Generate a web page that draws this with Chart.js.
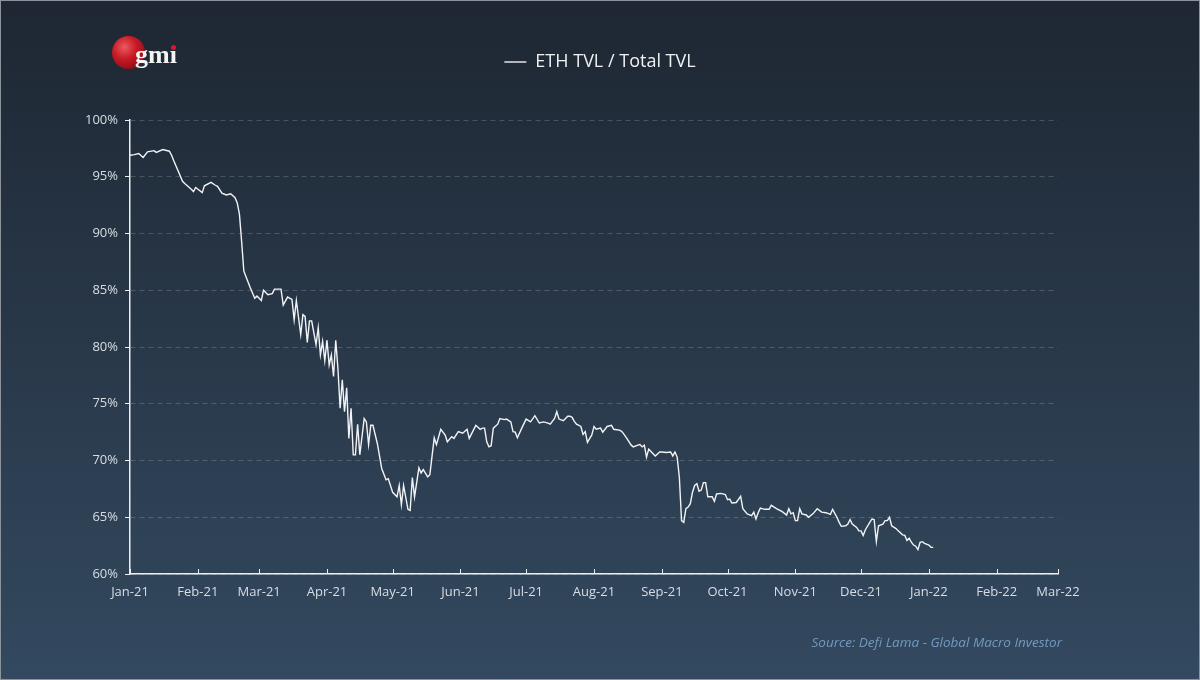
<!DOCTYPE html>
<html>
<head>
<meta charset="utf-8">
<title>ETH TVL / Total TVL</title>
<script src="https://cdn.jsdelivr.net/npm/chart.js@4.4.1/dist/chart.umd.min.js"></script>
<style>
  html, body { margin: 0; padding: 0; background: #1e2733; }
  #wrap {
    position: relative; width: 1200px; height: 680px; box-sizing: border-box;
    border: 1px solid #8c939b; overflow: hidden;
    background: linear-gradient(#1e2733, #33495f);
  }
  #chart { position: absolute; left: -1px; top: -1px; }
  .globe {
    position: absolute; left: 111px; top: 35px; width: 33px; height: 33px; border-radius: 50%;
    background: radial-gradient(circle at 38% 34%, #ea5a62 0%, #c81a25 40%, #8e0c14 80%, #6a070d 100%);
  }
  .gmi {
    position: absolute; left: 134px; top: 41px; font: bold 26px/26px "Liberation Serif", serif;
    color: #f4f4f4;
  }
  .idot { position: absolute; left: 170px; top: 44px; width: 5px; height: 5px; border-radius: 50%; background: #e3142a; }
  .source {
    position: absolute; right: 137px; top: 632px; font: italic 13.5px "Open Sans", sans-serif;
    color: #7399c0;
  }
</style>
</head>
<body>
<div id="wrap">
  <canvas id="chart" width="1200" height="680"></canvas>
  <div class="globe"></div>
  <div class="gmi">gmı</div>
  <div class="idot"></div>
  <div class="source">Source: Defi Lama - Global Macro Investor</div>
</div>
<script>
const seriesName = 'ETH TVL / Total TVL';

// days counted from 1 Jan 2021
const days = [
    0, 2, 4, 6, 8, 11, 12, 15, 18, 19, 20, 22, 24, 25, 28, 29, 30, 33, 34, 37, 39, 40, 42, 44, 46, 48, 49,
    50, 51, 52, 53, 55, 57, 58, 60, 61, 63, 65, 66, 69, 70, 72, 74, 75, 76, 78, 79, 80, 81, 82, 83, 85, 86, 87, 88, 89, 90, 91, 92, 93, 94, 95, 96, 97, 98, 99,
    100, 101, 102, 103, 104, 105, 107, 108, 109, 110, 111, 113, 115, 117, 118, 120, 122, 123, 124, 125, 127, 128, 129, 130, 132, 133, 134, 136, 137, 139, 140, 142, 144, 145, 147, 148,
    150, 152, 154, 155, 158, 160, 161, 162, 163, 164, 165, 166, 168, 169, 171, 172, 174, 175, 176, 177, 179, 181, 183, 185, 187, 189, 191, 192, 194, 195, 196, 198,
    200, 201, 202, 203, 204, 206, 207, 208, 209, 211, 212, 213, 215, 216, 218, 220, 221, 224, 225, 227, 229, 230, 232, 233, 234, 235, 236, 237, 239, 240, 242, 243, 245, 247, 248, 249,
    250, 251, 252, 253, 254, 255, 256, 257, 258, 259, 260, 261, 262, 263, 264, 266, 267, 268, 270, 272, 273, 274, 275, 277, 279, 280, 282, 284, 285, 286, 287, 288, 290, 292, 293, 295, 296, 298,
    300, 301, 302, 303, 304, 305, 306, 307, 309, 310, 312, 314, 316, 318, 320, 321, 323, 324, 325, 327, 328, 329, 330, 332, 333, 334, 335, 336, 338, 339, 340, 341, 342, 344, 345, 346, 347, 348,
    350, 351, 353, 354, 355, 356, 357, 358, 359, 360, 361, 362, 363, 365, 366, 367
]

const ethShare = [
    96.9, 96.95, 97.05, 96.7, 97.2, 97.3, 97.15, 97.4, 97.25, 96.9, 96.4, 95.5, 94.6, 94.4, 93.9, 93.7, 94.05, 93.6, 94.2, 94.5, 94.25, 94.15, 93.55, 93.4, 93.5, 93.15, 92.7,
    91.7, 89.3, 86.7, 86.2, 85.2, 84.3, 84.5, 84.1, 85.0, 84.6, 84.7, 85.1, 85.1, 83.7, 84.4, 84.2, 82.4, 84.1, 81.1, 82.85, 82.7, 80.4, 82.3, 82.3, 80.2, 81.7, 79.3, 80.5, 78.8, 80.6, 78.4, 79.3, 77.4, 80.6, 78.1, 74.6, 77.1, 74.3, 76.4,
    71.95, 74.6, 70.5, 70.5, 73.2, 70.5, 73.7, 73.4, 71.4, 73.1, 73.1, 71.5, 69.3, 68.3, 68.4, 67.2, 66.8, 67.8, 66.1, 67.8, 65.7, 65.6, 68.5, 66.8, 69.35, 68.9, 69.2, 68.55, 68.75, 72.0, 71.4, 72.75, 72.25, 71.65, 72.1, 71.95,
    72.55, 72.4, 72.75, 71.95, 73.1, 72.75, 72.85, 72.85, 71.65, 71.2, 71.3, 72.85, 73.2, 73.7, 73.6, 73.65, 73.4, 72.55, 72.5, 72.0, 72.85, 73.65, 73.4, 73.95, 73.3, 73.4, 73.3, 73.2, 73.7, 74.3, 73.65, 73.5,
    73.9, 73.9, 73.8, 73.45, 73.2, 73.0, 72.3, 72.55, 71.6, 72.25, 73.0, 72.75, 72.85, 72.5, 73.0, 73.1, 72.75, 72.65, 72.5, 71.95, 71.35, 71.2, 71.35, 71.4, 71.2, 71.35, 70.3, 71.0, 70.6, 70.4, 70.75, 70.75, 70.7, 70.75, 70.4, 70.75,
    70.3, 68.5, 64.7, 64.55, 65.75, 65.9, 66.2, 67.2, 67.8, 67.95, 67.3, 67.4, 68.05, 68.05, 66.8, 66.8, 66.4, 67.05, 67.1, 67.0, 66.55, 66.6, 66.25, 66.3, 66.85, 65.75, 65.3, 65.15, 65.45, 64.85, 65.4, 65.8, 65.7, 65.7, 66.05, 65.8, 65.7, 65.5,
    65.2, 65.75, 65.3, 65.4, 64.7, 64.7, 65.75, 65.3, 65.2, 65.0, 65.3, 65.75, 65.45, 65.4, 65.25, 65.7, 65.0, 64.55, 64.2, 64.25, 64.4, 64.8, 64.4, 64.1, 63.8, 63.8, 63.4, 63.9, 64.55, 64.85, 64.8, 62.85, 64.25, 64.4, 64.7, 64.7, 65.0, 64.25,
    64.0, 63.8, 63.45, 63.4, 62.95, 63.15, 62.8, 62.55, 62.45, 62.15, 62.8, 62.85, 62.7, 62.55, 62.35, 62.35
]

const monthDays = [0, 31, 59, 90, 120, 151, 181, 212, 243, 273, 304, 334, 365, 396, 424]
const monthLabels = ['Jan-21', 'Feb-21', 'Mar-21', 'Apr-21', 'May-21', 'Jun-21', 'Jul-21', 'Aug-21', 'Sep-21', 'Oct-21', 'Nov-21', 'Dec-21', 'Jan-22', 'Feb-22', 'Mar-22']

const labelColor = '#d8dde3'
const axisColor = '#eceef0'
const tickFont = { family: 'Open Sans', size: 13 }

// small tick marks on the x axis point up into the plot, so draw them here
const innerTicks = {
    id: 'innerTicks',
    afterDraw: (chart) => {
        const { ctx, chartArea } = chart
        const x = chart.scales.x
        ctx.save()
        ctx.strokeStyle = axisColor
        ctx.lineWidth = 1
        x.ticks.forEach(t => {
            const px = Math.round(x.getPixelForValue(t.value)) + 0.5
            ctx.beginPath()
            ctx.moveTo(px, chartArea.bottom)
            ctx.lineTo(px, chartArea.bottom - 5)
            ctx.stroke()
        })
        ctx.restore()
    }
}

// legend block is taller than Chart.js makes it
const legendSpace = {
    id: 'legendSpace',
    beforeInit: (chart) => {
        if (!chart.legend) return
        const fit = chart.legend.fit
        chart.legend.fit = function () {
            fit.call(this)
            this.height = 77
        }
    }
}

new Chart(document.getElementById('chart'), {
    type: 'line',
    data: {
        datasets: [{
            label: seriesName,
            data: days.map((d, i) => ({ x: d, y: ethShare[i] })),
            borderColor: '#f2f3f5',
            backgroundColor: '#f2f3f5',
            borderWidth: 1.4,
            pointRadius: 0,
            tension: 0,
            fill: false
        }]
    },
    options: {
        responsive: false,
        animation: false,
        layout: { padding: { top: 43, left: 0, right: 0, bottom: 0 } },
        plugins: {
            legend: {
                position: 'top',
                labels: {
                    color: '#eef0f2',
                    font: { family: 'Open Sans', size: 18 },
                    usePointStyle: true,
                    pointStyle: 'line',
                    pointStyleWidth: 22,
                    padding: 10
                }
            },
            tooltip: { enabled: false }
        },
        scales: {
            x: {
                type: 'linear',
                min: 0,
                max: 424,
                afterBuildTicks: (s) => { s.ticks = monthDays.map(v => ({ value: v })) },
                afterFit: (s) => { s.height = 106 },
                ticks: {
                    color: labelColor,
                    font: tickFont,
                    padding: 10,
                    autoSkip: false,
                    maxRotation: 0,
                    callback: (v, i) => monthLabels[i]
                },
                grid: { drawOnChartArea: false, drawTicks: false },
                border: { color: axisColor, width: 1.5 }
            },
            y: {
                min: 60,
                max: 100,
                afterFit: (s) => { s.width = 130 },
                ticks: {
                    stepSize: 5,
                    color: labelColor,
                    font: tickFont,
                    padding: 7,
                    callback: (v) => v + '%'
                },
                grid: { color: 'rgba(255,255,255,0.18)', tickColor: axisColor, tickLength: 5 },
                border: { color: axisColor, width: 1.5, dash: [5, 4] }
            },
            spacer: {
                position: 'right',
                afterFit: (s) => { s.width = 142 },
                ticks: { display: false },
                grid: { display: false },
                border: { display: false }
            }
        }
    },
    plugins: [innerTicks, legendSpace]
})
</script>
</body>
</html>
